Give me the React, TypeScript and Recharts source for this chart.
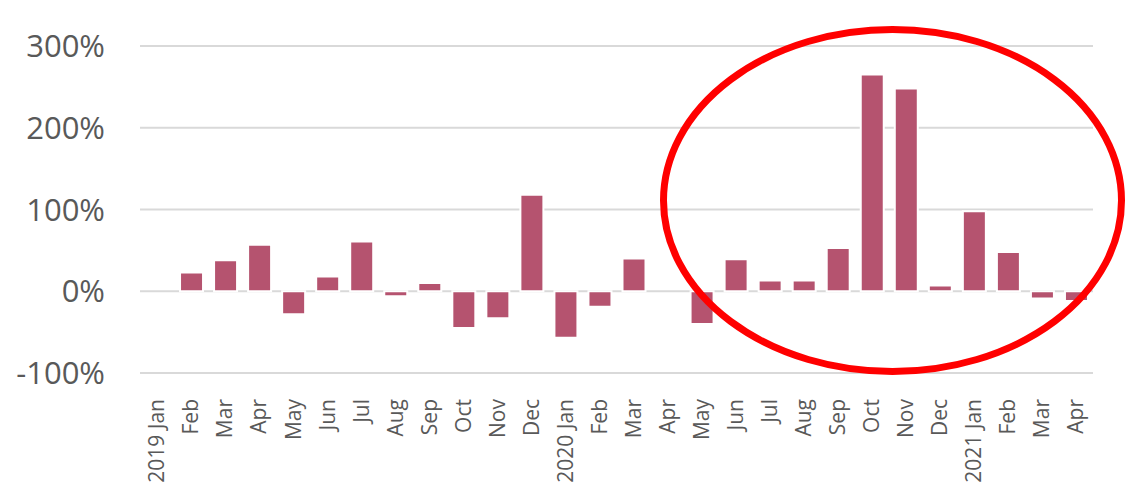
import { Bar, BarChart, CartesianGrid, XAxis, YAxis } from "recharts"

const months = [
  "2019 Jan", "Feb", "Mar", "Apr", "May", "Jun", "Jul", "Aug", "Sep", "Oct", "Nov", "Dec",
  "2020 Jan", "Feb", "Mar", "Apr", "May", "Jun", "Jul", "Aug", "Sep", "Oct", "Nov", "Dec",
  "2021 Jan", "Feb", "Mar", "Apr",
]

const growth = [
  0, 23, 38, 57, -28, 18, 61, -6, 10, -45, -33, 118,
  -57, -19, 40, 0, -40, 39, 13, 13, 53, 265, 248, 7,
  98, 48, -9, -12,
]

const yTicks = [-100, 0, 100, 200, 300]

const data = months.map((m, i) => ({ key: `${i}`, label: m, value: growth[i] }))

const textColor = "#595959"
const font = "'Open Sans', sans-serif"

function MonthTick(props: any) {
  const { x, y, payload } = props
  const label = months[Number(payload.value)]
  return (
    <text
      x={x}
      y={y + 18}
      transform={`rotate(-90, ${x}, ${y + 18})`}
      textAnchor="end"
      dy="0.35em"
      fill={textColor}
      fontSize={21}
      fontFamily={font}
    >
      {label}
    </text>
  )
}

export default function App() {
  return (
    <div style={{ position: "absolute", left: 0, top: 0, width: 1139, height: 483, background: "#fff" }}>
      <BarChart
        width={1139}
        height={483}
        data={data}
        margin={{ top: 46, right: 46, bottom: 0, left: 0 }}
      >
        <CartesianGrid vertical={false} stroke="#d9d9d9" strokeWidth={2} />
        <XAxis
          dataKey="key"
          height={110}
          interval={0}
          axisLine={false}
          tickLine={false}
          tick={<MonthTick />}
        />
        <YAxis
          width={140}
          domain={[-100, 300]}
          ticks={yTicks}
          axisLine={false}
          tickLine={false}
          tickSize={0}
          tickMargin={35}
          tickFormatter={(v) => `${v}%`}
          tick={{ fill: textColor, fontSize: 31, fontFamily: font }}
        />
        <Bar
          dataKey="value"
          fill="#b5536f"
          stroke="#ffffff"
          strokeWidth={2}
          barSize={23}
          isAnimationActive={false}
        />
      </BarChart>
      <svg
        width={1139}
        height={483}
        style={{ position: "absolute", left: 0, top: 0, pointerEvents: "none" }}
      >
        <ellipse cx={892.5} cy={200.5} rx={229} ry={171} fill="none" stroke="#ff0000" strokeWidth={7} />
      </svg>
    </div>
  )
}
